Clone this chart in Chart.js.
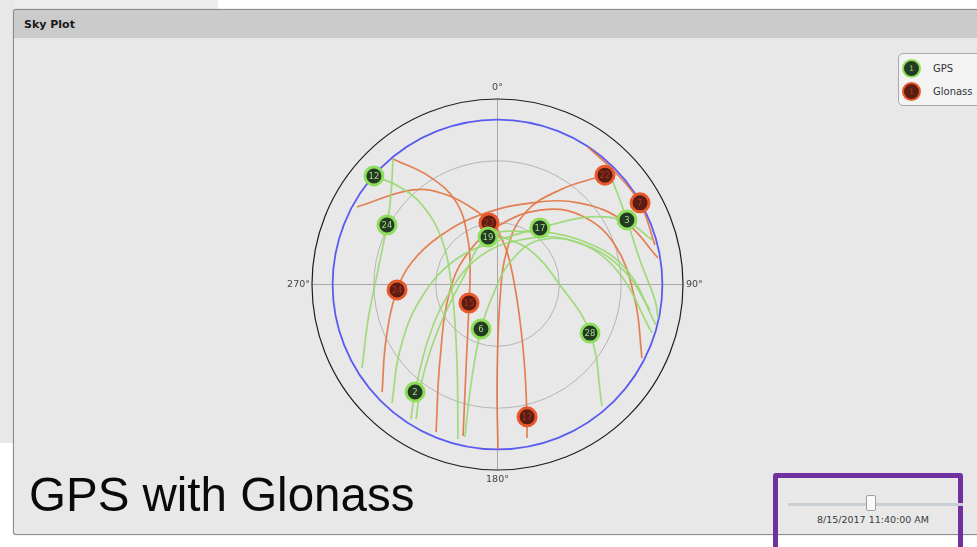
<!DOCTYPE html>
<html>
<head>
<meta charset="utf-8">
<script src="https://cdn.jsdelivr.net/npm/chart.js@4.4.0/dist/chart.umd.min.js"></script>
<style>
  html, body { margin: 0; padding: 0; }
  body { width: 977px; height: 547px; position: relative; overflow: hidden; background: #fff; font-family: "DejaVu Sans", Verdana, sans-serif; }
  #stripTop { position: absolute; left: 0; top: 0; width: 218px; height: 10px; background: #ececec; }
  #stripLeft { position: absolute; left: 0; top: 0; width: 14px; height: 443px; background: #e8e8e8; }
  #panel { position: absolute; left: 13px; top: 9px; width: 990px; height: 524px; border: 1px solid #8c8c8c; border-radius: 3px;
           background: #e8e8e8; box-shadow: 0 0 1px #777; overflow: hidden; }
  #header { height: 28px; line-height: 29px; background: #cbcbcb; padding-left: 10px; font-weight: bold; font-size: 11px; color: #1a1a1a; }
  #chart { position: absolute; left: 272px; top: 74px; }
  #legend { position: absolute; left: 898px; top: 53px; width: 100px; height: 51px; border: 1px solid #a9a9a9; border-radius: 5px; background: #f3f3f3; }
  .item { position: absolute; left: 3px; height: 19px; font-size: 10px; color: #333; line-height: 19px; }
  .dot { position: absolute; left: 0; top: 0; width: 15px; height: 15px; border-radius: 50%; font-size: 7.5px; text-align: center; line-height: 15px; }
  .item span.t { position: absolute; left: 31px; top: 0; white-space: nowrap; }
  #big { position: absolute; left: 29px; top: 467px; font-family: "Liberation Sans", Arial, sans-serif; font-size: 47.5px; color: #0a0a0a; white-space: nowrap; }
  #slider { position: absolute; left: 773px; top: 473px; width: 180px; height: 90px; border: 5px solid #7030a0; border-radius: 3px; }
  #track { position: absolute; left: 10px; top: 25px; width: 175px; height: 3px; background: #c9ced3; }
  #thumb { position: absolute; left: 88px; top: 17px; width: 8px; height: 14px; background: #fafafa; border: 1px solid #a0a0a0; border-radius: 2px; }
  #date { position: absolute; left: 0; top: 36px; width: 190px; text-align: center; font-size: 9.5px; color: #3a3a3a; }
</style>
</head>
<body>
<div id="stripTop"></div>
<div id="stripLeft"></div>
<div id="panel"><div id="header">Sky Plot</div></div>
<canvas id="chart" width="452" height="422"></canvas>
<div id="legend">
  <div class="item" style="top:5px"><div class="dot" style="background:#233b22;border:2px solid #8ede5c;color:#9fd27e">1</div><span class="t">GPS</span></div>
  <div class="item" style="top:28px"><div class="dot" style="background:#5b1d12;border:2px solid #e8582a;color:#a3391f">1</div><span class="t">Glonass</span></div>
</div>
<div id="big">GPS with Glonass</div>
<div id="slider"><div id="track"></div><div id="thumb"></div><div id="date">8/15/2017 11:40:00 AM</div></div>

<script>
// current satellite positions (azimuth / elevation, degrees)
const gpsPrn = [12, 24, 19, 17, 3, 6, 28, 2];
const gpsAz = [311.3, 298.3, 348.7, 36.9, 63.5, 200.3, 117.7, 217.5];
const gpsEl = [10.2, 29.1, 66.5, 55.7, 19.8, 67.0, 39.3, 24.3];

const glonassPrn = [22, 7, 23, 24, 15, 17];
const glonassAz = [44.5, 60.2, 352.1, 266.9, 237.0, 167.4];
const glonassEl = [15.6, 10.3, 59.9, 41.2, 73.5, 24.2];

// daily tracks, projected [east, north] in degrees from zenith
const gpsTracks = [
  [[-50.7, 60.9], [-51.7, 43.4], [-53.6, 28.9], [-58.0, 7.0], [-62.8, -17.2], [-65.7, -40.5]],
  [[-59.9, 52.6], [-48.3, 47.8], [-36.6, 38.6], [-26.9, 21.6], [-22.1, -2.7], [-19.7, -36.6], [-19.2, -75.0]],
  [[-42.0, -65.3], [-40.0, -52.2], [-33.7, -26.9], [-24.0, -5.1], [-9.5, 12.9], [10.9, 21.6], [35.2, 21.6], [57.0, 8.0], [75.0, -23.5]],
  [[-39.5, -65.3], [-36.6, -46.3], [-28.9, -22.1], [-17.2, 2.2], [-4.6, 23.0], [15.8, 25.5], [40.0, 21.6], [61.9, 8.0], [76.9, -19.7]],
  [[-51.2, -57.5], [-47.3, -31.8], [-37.6, -7.5], [-20.6, 11.9], [1.2, 21.6], [20.6, 27.4], [44.9, 32.8], [62.8, 30.3], [75.0, 21.6]],
  [[53.6, 55.6], [58.5, 43.4], [62.8, 31.3], [69.1, 11.9], [76.4, -7.5], [77.9, -16.3]],
  [[-15.8, -74.0], [-12.9, -48.8], [-8.0, -21.6], [-2.2, -5.1], [6.1, 10.9], [20.6, 21.6], [42.5, 19.2], [61.9, 6.1], [74.0, -12.4]],
  [[1.2, 23.5], [15.8, 16.7], [30.3, -0.2], [44.9, -23.5], [50.7, -59.0]]
];
const glonassTracks = [
  [[52.2, 53.1], [30.3, 45.9], [13.3, 34.7], [4.6, 16.7], [1.2, -7.5], [-0.2, -46.3], [0.2, -79.8]],
  [[43.9, 66.7], [57.0, 54.6], [69.1, 39.5], [76.4, 19.2]],
  [[-68.2, 37.6], [-41.0, 45.9], [-24.5, 43.4], [-9.5, 35.2], [-4.1, 29.8], [1.2, 22.6]],
  [[-50.7, 60.9], [-32.8, 52.2], [-19.7, 39.5], [-14.3, 21.6], [-13.3, 7.0], [-13.8, -9.0], [-15.3, -41.5], [-16.7, -73.5]],
  [[-56.0, -52.2], [-54.1, -26.9], [-48.8, -2.7], [-41.5, 10.9], [-27.9, 23.5], [-8.5, 33.7], [15.8, 39.5], [40.0, 39.5], [61.9, 30.3], [77.9, 12.9]],
  [[-29.8, -71.6], [-27.9, -36.6], [-23.0, -2.7], [-13.3, 16.7], [1.2, 28.9], [20.6, 36.1], [40.0, 33.7], [57.0, 19.2], [66.7, -7.5], [70.1, -35.7]],
  [[14.3, -74.5], [14.3, -64.3], [12.9, -36.6], [9.5, -7.5], [5.1, 14.3], [-0.2, 27.4]]
];

// grid: elevation rings and azimuth labels
const ringElevations = [0, 10, 30, 60];
const ringColors = ['#1e1e1e', '#5b5bf0', '#b4b4b4', '#b4b4b4'];
const azimuthTicks = [0, 90, 180, 270];
const azimuthLabels = ['0°', '90°', '180°', '270°'];

function toSky(az, el) {
  const r = 90 - el, a = az * Math.PI / 180;
  return { x: r * Math.sin(a), y: r * Math.cos(a) };
}

const gridPlugin = {
  id: 'skyGrid',
  beforeDatasetsDraw(chart) {
    const { ctx, scales: { x, y } } = chart;
    const cx = x.getPixelForValue(0), cy = y.getPixelForValue(0);
    const R = x.getPixelForValue(90) - cx;
    ctx.save();
    ctx.strokeStyle = '#a8a8a8';
    ctx.lineWidth = 1;
    ctx.beginPath();
    ctx.moveTo(cx - R, cy); ctx.lineTo(cx + R, cy);
    ctx.moveTo(cx, cy - R); ctx.lineTo(cx, cy + R);
    ctx.stroke();
    ringElevations.forEach((el, i) => {
      const r = x.getPixelForValue(90 - el) - cx;
      ctx.strokeStyle = ringColors[i];
      ctx.lineWidth = i === 1 ? 1.8 : (i === 0 ? 1.2 : 1);
      ctx.beginPath();
      ctx.arc(cx, cy, r, 0, Math.PI * 2);
      ctx.stroke();
    });
    ctx.fillStyle = '#444';
    ctx.font = '9.5px "DejaVu Sans", sans-serif';
    azimuthTicks.forEach((az, i) => {
      const a = az * Math.PI / 180;
      const px = cx + Math.sin(a) * (R + 4), py = cy - Math.cos(a) * (R + 4);
      if (az === 0) { ctx.textAlign = 'center'; ctx.textBaseline = 'bottom'; ctx.fillText(azimuthLabels[i], px, py - 3); }
      else if (az === 180) { ctx.textAlign = 'center'; ctx.textBaseline = 'top'; ctx.fillText(azimuthLabels[i], px, py + 1); }
      else if (az === 90) { ctx.textAlign = 'left'; ctx.textBaseline = 'middle'; ctx.fillText(azimuthLabels[i], px - 1, py); }
      else { ctx.textAlign = 'right'; ctx.textBaseline = 'middle'; ctx.fillText(azimuthLabels[i], px + 2, py); }
    });
    ctx.restore();
  }
};

const prnPlugin = {
  id: 'prnLabels',
  afterDatasetsDraw(chart) {
    const ctx = chart.ctx;
    ctx.save();
    ctx.font = '8.5px "DejaVu Sans", sans-serif';
    ctx.textAlign = 'center';
    ctx.textBaseline = 'middle';
    [[gpsPrn, '#a8d88a'], [glonassPrn, '#a8341c']].forEach(([prns, color], d) => {
      ctx.fillStyle = color;
      chart.getDatasetMeta(d).data.forEach((pt, j) => ctx.fillText(String(prns[j]), pt.x, pt.y + 0.5));
    });
    ctx.restore();
  }
};

const trackSet = (t, color) => ({
  data: t.map(([x, y]) => ({ x, y })),
  showLine: true, pointRadius: 0, borderColor: color, borderWidth: 1.7, tension: 0.4, order: 1
});

new Chart(document.getElementById('chart'), {
  type: 'scatter',
  data: {
    datasets: [
      { label: 'GPS', data: gpsAz.map((az, i) => toSky(az, gpsEl[i])), pointRadius: 9,
        pointBackgroundColor: '#233b22', pointBorderColor: '#8ede5c', pointBorderWidth: 3, order: 0 },
      { label: 'Glonass', data: glonassAz.map((az, i) => toSky(az, glonassEl[i])), pointRadius: 9,
        pointBackgroundColor: '#5b1d12', pointBorderColor: '#e8582a', pointBorderWidth: 3, order: 0 },
      ...gpsTracks.map(t => trackSet(t, 'rgba(152, 216, 112, 0.9)')),
      ...glonassTracks.map(t => trackSet(t, 'rgba(226, 116, 66, 0.9)'))
    ]
  },
  options: {
    responsive: false,
    animation: false,
    devicePixelRatio: 1,
    layout: { padding: { left: 40, right: 41, top: 25, bottom: 26 } },
    scales: {
      x: { type: 'linear', min: -90, max: 90, display: false },
      y: { type: 'linear', min: -90, max: 90, display: false }
    },
    plugins: { legend: { display: false }, tooltip: { enabled: false } }
  },
  plugins: [gridPlugin, prnPlugin]
});
</script>
</body>
</html>
